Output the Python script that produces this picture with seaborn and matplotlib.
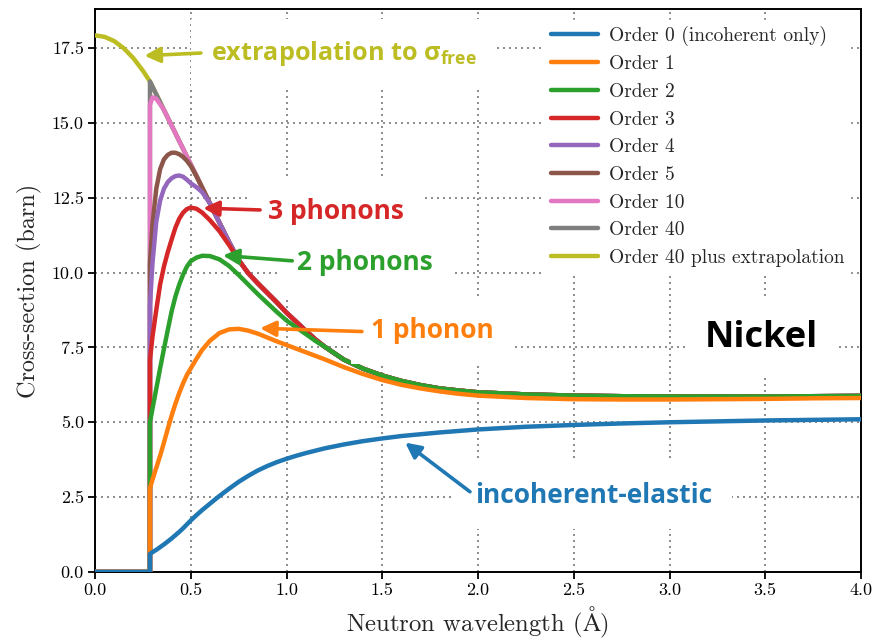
import matplotlib
matplotlib.use("Agg")
import matplotlib.pyplot as plt
import seaborn as sns
import pandas as pd

# ---------------------------------------------------------------- data
cutoff = 0.287  # wavelength below which only the free-gas extrapolation is non-zero

wavelength = [0.287, 0.30, 0.32, 0.34, 0.36, 0.38, 0.40, 0.42, 0.44, 0.46,
              0.48, 0.50, 0.53, 0.56, 0.60, 0.65, 0.70, 0.75, 0.80, 0.85,
              0.90, 0.95, 1.00, 1.05, 1.10, 1.15, 1.20, 1.30, 1.40, 1.50,
              1.60, 1.70, 1.80, 1.90, 2.00, 2.25, 2.50, 2.75, 3.00, 3.25,
              3.50, 3.75, 4.00]

order0 = [0.60, 0.66, 0.74, 0.83, 0.92, 1.02, 1.12, 1.23, 1.34, 1.46,
          1.59, 1.72, 1.90, 2.07, 2.28, 2.54, 2.78, 3.01, 3.21, 3.39,
          3.54, 3.67, 3.78, 3.88, 3.97, 4.05, 4.13, 4.26, 4.37, 4.46,
          4.54, 4.60, 4.66, 4.71, 4.76, 4.85, 4.91, 4.96, 5.00, 5.03,
          5.06, 5.08, 5.10]

order1 = [2.80, 3.08, 3.48, 3.88, 4.32, 4.78, 5.22, 5.62, 5.98, 6.30,
          6.58, 6.80, 7.12, 7.42, 7.72, 7.98, 8.10, 8.12, 8.06, 7.96,
          7.83, 7.70, 7.58, 7.46, 7.34, 7.22, 7.10, 6.84, 6.61, 6.41,
          6.25, 6.13, 6.03, 5.95, 5.89, 5.81, 5.77, 5.76, 5.76, 5.77,
          5.78, 5.80, 5.81]

# order 40 (converged sum); higher orders join it once their own peak is passed
order40 = [16.38, 16.21, 15.95, 15.69, 15.43, 15.17, 14.91, 14.65, 14.39, 14.13,
           13.87, 13.61, 13.22, 12.83, 12.31, 11.66, 11.02, 10.42, 9.98, 9.64,
           9.32, 9.00, 8.66, 8.36, 8.06, 7.77, 7.52, 7.09, 6.79, 6.56,
           6.38, 6.24, 6.13, 6.06, 6.00, 5.93, 5.89, 5.87, 5.86, 5.86,
           5.86, 5.87, 5.88]

order2_rise = [5.00, 5.45, 6.12, 6.80, 7.45, 8.08, 8.70, 9.20, 9.60, 9.93,
               10.20, 10.38, 10.50, 10.56, 10.55, 10.44, 10.22, 9.92, 9.60, 9.28,
               8.98, 8.68, 8.40, 8.17, 7.95, 7.72]
order3_rise = [7.08, 7.85, 8.75, 9.60, 10.20, 10.68, 11.10, 11.50, 11.80, 12.00,
               12.12, 12.17, 12.13, 12.00, 11.75, 11.38, 10.92]
order4_rise = [8.90, 10.30, 11.70, 12.40, 12.80, 13.02, 13.15, 13.22, 13.24, 13.20,
               13.10, 12.98, 12.85, 12.68]
order5_rise = [10.30, 11.60, 12.80, 13.45, 13.78, 13.93, 14.00, 14.00, 13.95, 13.86,
               13.73, 13.56]
order10_rise = [15.60, 15.85, 15.80, 15.62]

# free-gas extrapolation below the cutoff
free_wavelength = [0.0, 0.05, 0.10, 0.15, 0.20, 0.25, 0.287]
free_xs = [17.92, 17.87, 17.73, 17.49, 17.16, 16.74, 16.38]

labels = ["Order 0 (incoherent only)", "Order 1", "Order 2", "Order 3",
          "Order 4", "Order 5", "Order 10", "Order 40",
          "Order 40 plus extrapolation"]


def joined(rise):
    return rise + order40[len(rise):]


series = {
    labels[0]: ([0.0, cutoff] + wavelength, [0.0, 0.0] + order0),
    labels[1]: ([0.0, cutoff] + wavelength, [0.0, 0.0] + order1),
    labels[2]: ([0.0, cutoff] + wavelength, [0.0, 0.0] + joined(order2_rise)),
    labels[3]: ([0.0, cutoff] + wavelength, [0.0, 0.0] + joined(order3_rise)),
    labels[4]: ([0.0, cutoff] + wavelength, [0.0, 0.0] + joined(order4_rise)),
    labels[5]: ([0.0, cutoff] + wavelength, [0.0, 0.0] + joined(order5_rise)),
    labels[6]: ([0.0, cutoff] + wavelength, [0.0, 0.0] + joined(order10_rise)),
    labels[7]: ([0.0, cutoff] + wavelength, [0.0, 0.0] + order40),
    labels[8]: (free_wavelength + wavelength[1:], free_xs + order40[1:]),
}

rows = []
for name, (xs, ys) in series.items():
    for i, (x, y) in enumerate(zip(xs, ys)):
        rows.append({"order": name, "step": i, "wavelength": x, "xs": y})
df = pd.DataFrame(rows)

# ---------------------------------------------------------------- style
sns.set_theme(style="ticks")
plt.rcParams["font.family"] = ["cmr10"]
plt.rcParams["mathtext.fontset"] = "cm"
plt.rcParams["axes.formatter.use_mathtext"] = True
# fonts used by the "custom" math set (only the sigma_free label uses it)
plt.rcParams["mathtext.rm"] = "Open Sans:bold"
plt.rcParams["mathtext.it"] = "Open Sans:bold"
plt.rcParams["mathtext.bf"] = "Open Sans:bold"

palette = dict(zip(labels, sns.color_palette("tab10", 9)))

fig = plt.figure(figsize=(8.78, 6.41), dpi=100)
ax = fig.add_axes([95 / 878, 1 - 572 / 641, (861 - 95) / 878, (572 - 9) / 641])

handles = {}
# lower orders are drawn last so they sit on top
for k, name in reversed(list(enumerate(labels))):
    sub = df[df["order"] == name]
    sns.lineplot(data=sub, x="wavelength", y="xs", sort=False, estimator=None,
                 color=palette[name], lw=3.2, ax=ax, zorder=3 + (9 - k) * 0.1,
                 label=name, legend=False)
    handles[name] = ax.lines[-1]

ax.set_xlim(0, 4.0)
ax.set_ylim(0, 18.8)
ax.set_xticks([0.0, 0.5, 1.0, 1.5, 2.0, 2.5, 3.0, 3.5, 4.0])
ax.set_yticks([0.0, 2.5, 5.0, 7.5, 10.0, 12.5, 15.0, 17.5])
ax.set_xticklabels([f"{v:.1f}" for v in ax.get_xticks()])
ax.set_yticklabels([f"{v:.1f}" for v in ax.get_yticks()])
ax.tick_params(direction="out", length=5, width=1.3, labelsize=13,
               colors="black", pad=3)
for sp in ax.spines.values():
    sp.set_visible(True)
    sp.set_linewidth(1.4)
    sp.set_color("black")
ax.set_axisbelow(True)
ax.grid(True, ls=(0, (1.2, 2.4)), color="#7a7a7a", lw=1.2)

ax.set_xlabel(r"Neutron wavelength ($\mathrm{\AA}$)", fontsize=17.8, labelpad=5)
ax.set_ylabel("Cross-section (barn)", fontsize=17.5, labelpad=7)

leg = ax.legend([handles[n] for n in labels], labels, loc="upper right",
                fontsize=14, frameon=True, framealpha=1.0, edgecolor="white",
                fancybox=False, handlelength=2.45, labelspacing=0.5,
                borderpad=0.3, borderaxespad=0.55, handletextpad=0.55)
for line in leg.get_lines():
    line.set_linewidth(3.2)
leg.set_zorder(10)

# ---------------------------------------------------------------- annotations
ann_font = dict(family="Open Sans", weight="bold")


def box(size):
    return dict(boxstyle=f"square,pad={14.4 / size:.3f}", fc="white", ec="none")


def arrow(tip, tail, color):
    ax.annotate("", xy=tip, xytext=tail, zorder=9,
                arrowprops=dict(arrowstyle="-|>", color=color, lw=2.6,
                                mutation_scale=23, shrinkA=0, shrinkB=0))


def note(text, xy_text, tip, tail, color, size, **kw):
    ax.text(*xy_text, text, color=color, fontsize=size, ha="left",
            va="center", zorder=8, bbox=box(size), **ann_font, **kw)
    arrow(tip, tail, color)


note("extrapolation to σ$_{\\mathrm{free}}$", (0.607, 17.30), (0.258, 17.24),
     (0.553, 17.33), palette[labels[8]], 18.2, math_fontfamily="custom")
note("3 phonons", (0.905, 12.03), (0.565, 12.15), (0.862, 12.09),
     palette[labels[3]], 19)
note("2 phonons", (1.057, 10.32), (0.668, 10.57), (1.03, 10.39),
     palette[labels[2]], 19)
note("1 phonon", (1.443, 8.05), (0.862, 8.14), (1.394, 8.03),
     palette[labels[1]], 19)
note("incoherent-elastic", (1.986, 2.54), (1.62, 4.32), (1.958, 2.68),
     palette[labels[0]], 19)

ax.text(3.48, 7.82, "Nickel", color="black", fontsize=26, ha="center",
        va="center", zorder=8, bbox=box(26), **ann_font)

fig.savefig("out.png", dpi=100)
